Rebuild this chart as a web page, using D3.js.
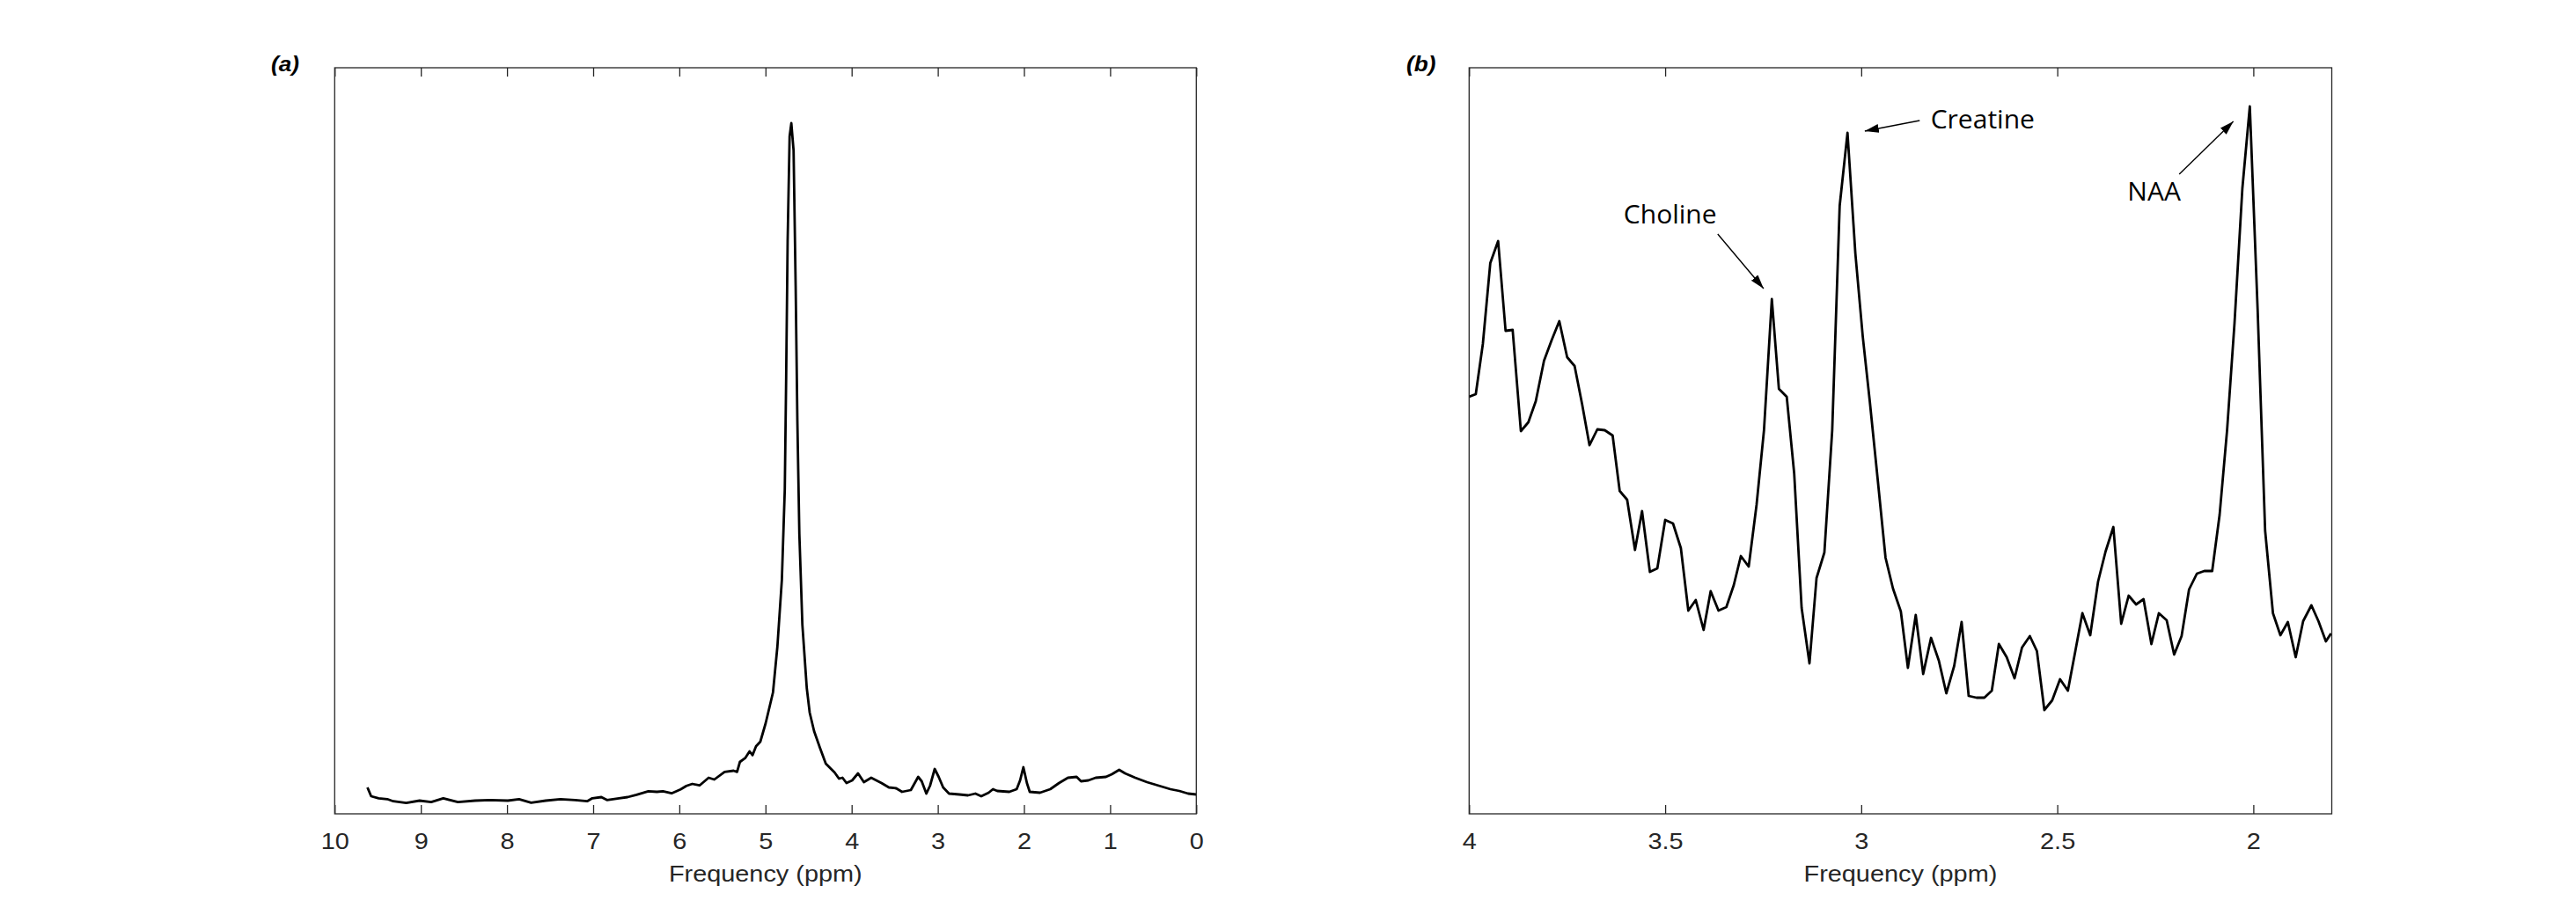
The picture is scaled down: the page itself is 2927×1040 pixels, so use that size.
<!DOCTYPE html>
<html>
<head>
<meta charset="utf-8">
<script src="https://cdn.jsdelivr.net/npm/d3@7"></script>
<style>
body { margin: 0; background: #fff; }
</style>
</head>
<body>
<svg id="chart" width="2927" height="1040"></svg>
<script>
// (a) whole spectrum (ppm, amplitude in a.u.)
const fullPpm = [9.62, 9.577, 9.49, 9.39, 9.32, 9.17, 9.015, 8.88, 8.74, 8.57, 8.37, 8.20, 7.99, 7.86, 7.72, 7.55, 7.38, 7.21, 7.07, 7.01,
    6.905, 6.84, 6.70, 6.60, 6.497, 6.36, 6.26, 6.19, 6.09, 5.986, 5.918, 5.85, 5.765, 5.66, 5.594, 5.475, 5.37, 5.33, 5.297, 5.236,
    5.185, 5.15, 5.11, 5.06, 4.998, 4.913, 4.862, 4.81, 4.776, 4.76, 4.743, 4.72, 4.70, 4.674, 4.65, 4.63, 4.607, 4.572, 4.521, 4.487,
    4.436, 4.368, 4.30, 4.198, 4.147, 4.106, 4.06, 3.994, 3.926, 3.858, 3.773, 3.654, 3.568, 3.483, 3.415, 3.313, 3.228, 3.187, 3.133, 3.09,
    3.036, 2.99, 2.938, 2.87, 2.75, 2.65, 2.564, 2.496, 2.41, 2.36, 2.31, 2.17, 2.085, 2.045, 2.007, 1.966, 1.933, 1.814, 1.695, 1.593,
    1.49, 1.389, 1.338, 1.253, 1.168, 1.048, 0.98, 0.895, 0.827, 0.708, 0.572, 0.436, 0.30, 0.197, 0.095, 0.0];
const fullAmp = [30, 20, 17.7, 16.7, 14.3, 12.3, 15, 13.3, 17.7, 13.3, 15, 15.7, 15, 16.7, 12.7, 15, 16.7, 15.7, 14.3, 17.7,
    19, 15.7, 17.7, 19, 21.7, 25.7, 25, 25.7, 23.3, 27.7, 31.7, 34, 32.3, 41, 39, 47.7, 49, 47.7, 59, 63.3,
    71, 66.7, 76.7, 82, 103, 138, 190, 266, 369, 497, 651, 770, 785, 754, 600, 446, 318, 215, 143, 115,
    94, 75, 57, 47, 40, 41, 35, 38, 46, 36, 41, 35, 30, 29, 25, 27, 42, 37, 23, 32,
    51, 42, 30, 23, 22, 21, 23, 20, 24, 28, 26, 25, 28, 38, 53, 35, 25, 24, 28, 35,
    41, 42, 37, 38, 41, 42, 45, 50, 46, 41, 36, 32, 28, 26, 23, 22];

// (b) 4.0 - 1.8 ppm region
const zoomPpm = [4.000, 3.983, 3.965, 3.946, 3.926, 3.907, 3.889, 3.868, 3.849, 3.830, 3.809, 3.789, 3.770, 3.750, 3.731, 3.712, 3.693, 3.673, 3.654, 3.634,
    3.616, 3.597, 3.577, 3.559, 3.539, 3.520, 3.500, 3.480, 3.460, 3.441, 3.422, 3.402, 3.384, 3.364, 3.344, 3.325, 3.307, 3.287, 3.267, 3.248,
    3.228, 3.210, 3.190, 3.171, 3.152, 3.132, 3.114, 3.094, 3.074, 3.055, 3.035, 3.015, 2.996, 2.978, 2.958, 2.938, 2.919, 2.899, 2.881, 2.861,
    2.842, 2.822, 2.802, 2.783, 2.763, 2.744, 2.726, 2.706, 2.686, 2.667, 2.649, 2.629, 2.609, 2.590, 2.570, 2.552, 2.533, 2.513, 2.493, 2.473,
    2.454, 2.436, 2.416, 2.396, 2.377, 2.357, 2.337, 2.318, 2.299, 2.280, 2.260, 2.241, 2.221, 2.202, 2.183, 2.164, 2.144, 2.125, 2.105, 2.086,
    2.067, 2.048, 2.028, 2.009, 1.989, 1.970, 1.950, 1.931, 1.912, 1.892, 1.873, 1.852, 1.834, 1.815, 1.802];
const zoomAmp = [474, 477, 534, 626, 651, 549, 550, 435, 445, 469, 515, 539, 560, 519, 509, 466, 419, 437, 436, 430,
    367, 357, 300, 344, 275, 279, 334, 330, 302, 231, 243, 209, 253, 231, 235, 260, 293, 281, 351, 436,
    585, 483, 474, 387, 234, 171, 268, 297, 436, 691, 774, 637, 542, 468, 380, 291, 256, 230, 166, 226,
    159, 200, 174, 137, 168, 218, 134, 132, 132, 140, 193, 178, 154, 189, 202, 185, 118, 129, 153, 140,
    185, 228, 203, 264, 298, 326, 216, 248, 238, 244, 193, 228, 220, 181, 202, 255, 273, 276, 276, 340,
    436, 558, 711, 804, 572, 322, 228, 203, 218, 178, 219, 237, 219, 196, 205];

const fullTicks = [10, 9, 8, 7, 6, 5, 4, 3, 2, 1, 0];
const fullTickLabels = ["10", "9", "8", "7", "6", "5", "4", "3", "2", "1", "0"];
const zoomTicks = [4, 3.5, 3, 2.5, 2];
const zoomTickLabels = ["4", "3.5", "3", "2.5", "2"];

// peak labels: text anchor and arrow (from -> tip), in ppm / a.u.
const peakNames = ["Choline", "Creatine", "NAA"];
const peakTextAt = [[3.606, 671], [2.823, 779], [2.321, 697]];
const peakArrowFrom = [[3.366, 659], [2.851, 788], [2.189, 727]];
const peakArrowTo = [[3.249, 597], [2.991, 776], [2.051, 787]];

const svg = d3.select("#chart");
const plotTop = 77, plotBottom = 925;
const axisColor = "#262626";
const tickFont = "26.5px 'Liberation Sans', Arial, sans-serif";
const textStretch = "scale(1.09,1)";

svg.append("defs").append("marker")
    .attr("id", "arrow")
    .attr("viewBox", "0 0 16 10")
    .attr("refX", 16)
    .attr("refY", 5)
    .attr("markerWidth", 16)
    .attr("markerHeight", 10)
    .attr("markerUnits", "userSpaceOnUse")
    .attr("orient", "auto")
    .append("path")
    .attr("d", "M0,0 L16,5 L0,10 Z")
    .attr("fill", "#000");

function drawPanel(cfg) {
    const x = d3.scaleLinear().domain(cfg.xDomain).range([cfg.left, cfg.right]);
    const y = d3.scaleLinear().domain([0, 848]).range([plotBottom, plotTop]);
    const g = svg.append("g");

    g.append("clipPath").attr("id", cfg.id + "-clip")
        .append("rect")
        .attr("x", cfg.left).attr("y", plotTop)
        .attr("width", cfg.right - cfg.left).attr("height", plotBottom - plotTop);

    g.append("path")
        .datum(d3.zip(cfg.ppm, cfg.amp))
        .attr("clip-path", `url(#${cfg.id}-clip)`)
        .attr("fill", "none")
        .attr("stroke", "#000")
        .attr("stroke-width", 2.8)
        .attr("stroke-linejoin", "round")
        .attr("d", d3.line().x(d => x(d[0])).y(d => y(d[1])));

    const axB = g.append("g")
        .attr("transform", `translate(0,${plotBottom})`)
        .call(d3.axisBottom(x).tickValues(cfg.ticks)
            .tickFormat((d, i) => cfg.tickLabels[i])
            .tickSize(-10).tickPadding(21));
    axB.select(".domain").remove();
    axB.selectAll("line").attr("stroke", axisColor).attr("stroke-width", 1.3);
    axB.selectAll("text")
        .attr("fill", axisColor)
        .style("font", tickFont)
        .attr("transform", textStretch);

    const axT = g.append("g")
        .attr("transform", `translate(0,${plotTop})`)
        .call(d3.axisTop(x).tickValues(cfg.ticks).tickFormat("").tickSize(-10));
    axT.select(".domain").remove();
    axT.selectAll("line").attr("stroke", axisColor).attr("stroke-width", 1.3);

    g.append("rect")
        .attr("x", cfg.left).attr("y", plotTop)
        .attr("width", cfg.right - cfg.left).attr("height", plotBottom - plotTop)
        .attr("fill", "none")
        .attr("stroke", axisColor)
        .attr("stroke-width", 1.3);

    g.append("text")
        .attr("transform", `translate(${(cfg.left + cfg.right) / 2},1002) ${textStretch}`)
        .attr("text-anchor", "middle")
        .attr("fill", axisColor)
        .style("font", tickFont)
        .text("Frequency (ppm)");

    g.append("text")
        .attr("transform", `translate(${cfg.labelX},81) ${textStretch}`)
        .style("font", "italic bold 24px 'Liberation Sans', Arial, sans-serif")
        .attr("fill", "#000")
        .text(cfg.label);

    return { x: x, y: y, g: g };
}

drawPanel({
    id: "a", label: "(a)", labelX: 308,
    left: 380.3, right: 1359.3, xDomain: [10, 0],
    ppm: fullPpm, amp: fullAmp,
    ticks: fullTicks, tickLabels: fullTickLabels
});

const pb = drawPanel({
    id: "b", label: "(b)", labelX: 1598,
    left: 1669.3, right: 2649.5, xDomain: [4, 1.8],
    ppm: zoomPpm, amp: zoomAmp,
    ticks: zoomTicks, tickLabels: zoomTickLabels
});

peakNames.forEach((name, i) => {
    pb.g.append("line")
        .attr("x1", pb.x(peakArrowFrom[i][0])).attr("y1", pb.y(peakArrowFrom[i][1]))
        .attr("x2", pb.x(peakArrowTo[i][0])).attr("y2", pb.y(peakArrowTo[i][1]))
        .attr("stroke", "#000")
        .attr("stroke-width", 1.4)
        .attr("marker-end", "url(#arrow)");
    pb.g.append("text")
        .attr("x", pb.x(peakTextAt[i][0]))
        .attr("y", pb.y(peakTextAt[i][1]))
        .style("font", "30px 'Open Sans', sans-serif")
        .attr("fill", "#000")
        .text(name);
});
</script>
</body>
</html>
